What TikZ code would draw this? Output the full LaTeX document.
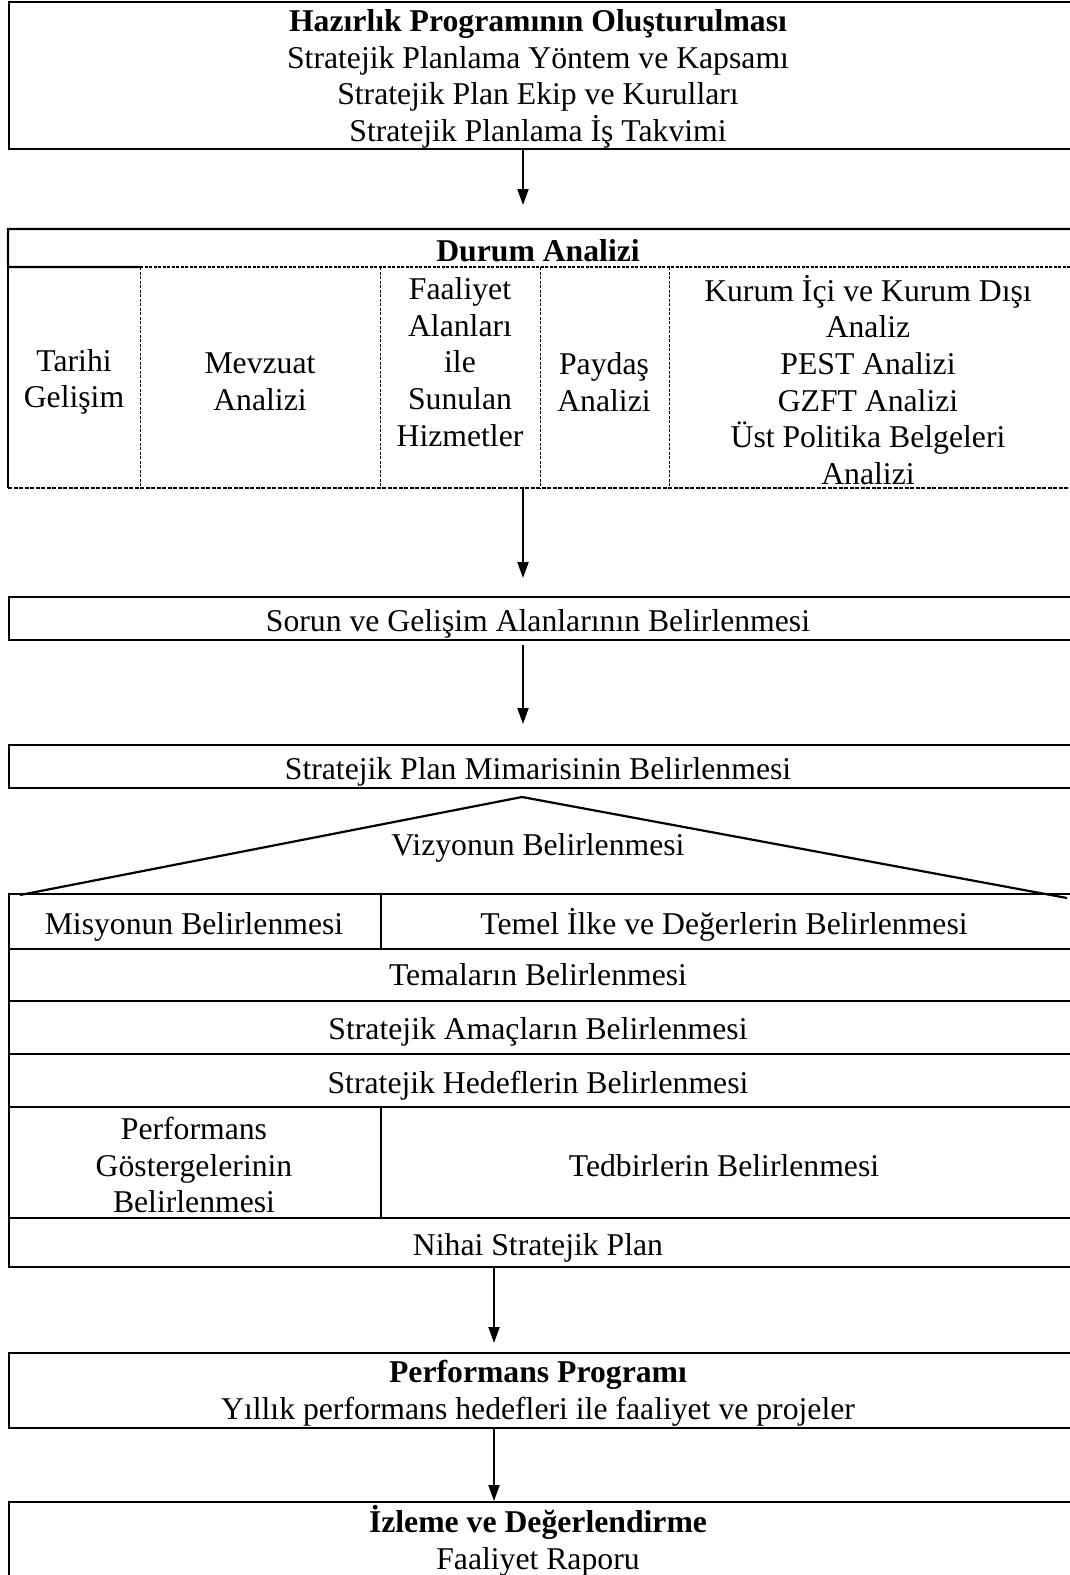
\documentclass[tikz,border=0pt]{standalone}
\usepackage{fontspec}
\setmainfont{Liberation Serif}
\usetikzlibrary{arrows.meta,calc}
\begin{document}
\begin{tikzpicture}[x=1pt,y=-1pt,
  txt/.style={font=\fontsize{31.7}{36.7}\selectfont, align=center, inner sep=0pt},
  one/.style={txt, text height=21pt, text depth=7pt},
  frame/.style={draw, line width=2.2pt, inner sep=0pt, anchor=north west},
  area/.style={inner sep=0pt, anchor=north west},
  thick line/.style={line width=2.2pt},
  sep line/.style={line width=1pt, dash pattern=on 3pt off 1.5pt},
  head line/.style={line width=1.5pt, dash pattern=on 3pt off 1.5pt},
  foot line/.style={line width=2pt, dash pattern=on 4pt off 1.5pt},
  arr/.style={line width=2pt, -{Triangle[length=16pt,width=11pt]}}]
\useasboundingbox (0,0) rectangle (1069,1575);

% ---------- box 1
\node[frame, minimum width=1092pt, minimum height=147pt] (b1) at (8,1) {};
\node[txt] (t1) at (538,79) {\textbf{Hazırlık Programının Oluşturulması}\\Stratejik Planlama Yöntem ve Kapsamı\\Stratejik Plan Ekip ve Kurulları\\Stratejik Planlama İş Takvimi};

% ---------- box 2 : Durum Analizi
\node[area, minimum width=1092pt, minimum height=259pt] (b2) at (8,229) {};
\coordinate (h0) at (8,267);
\coordinate (h1) at (140,267);
\coordinate (h5) at (1100,267);
\coordinate (f0) at (8,488);
\coordinate (f5) at (1100,488);
\draw[thick line] (h1) -- (h0) |- (b2.north east) -- (f5);
\draw[thick line] (h0) -- (f0);
\draw[head line] (h1) -- (h5);
\draw[foot line] (f0) -- (f5);
\foreach \x in {140,380,540,669}{
  \draw[sep line] (\x,267) -- (\x,488);
}
\node[one] (dh) at (538,254) {\textbf{Durum Analizi}};
\node[txt] (c1) at (74,382) {Tarihi\\Gelişim};
\node[txt] (c2) at (260,382) {Mevzuat\\Analizi};
\node[txt] (c3) at (460,362) {Faaliyet\\Alanları\\ile\\Sunulan\\Hizmetler};
\node[txt] (c4) at (604,382) {Paydaş\\Analizi};
\node[txt] (c5) at (868,380) {Kurum İçi ve Kurum Dışı\\Analiz\\PEST Analizi\\GZFT Analizi\\Üst Politika Belgeleri\\Analizi};

% ---------- box 3
\node[frame, minimum width=1092pt, minimum height=43pt] (b3) at (8,596) {};
\node[one] (t3) at (538,624) {Sorun ve Gelişim Alanlarının Belirlenmesi};

% ---------- box 4
\node[frame, minimum width=1092pt, minimum height=43pt] (b4) at (8,744) {};
\node[one] (t4) at (538,772) {Stratejik Plan Mimarisinin Belirlenmesi};

% ---------- triangle (vision)
\coordinate (vl) at (20,895);
\coordinate (vt) at (522,797);
\coordinate (vr) at (1067,898);
\draw[thick line] (vl) -- (vt) -- (vr);
\node[one] (viz) at (538,848) {Vizyonun Belirlenmesi};

% ---------- main table
\node[frame, minimum width=1092pt, minimum height=373pt] (tb) at (8,893) {};
\foreach \y in {949,1001,1054,1107,1218}{
  \draw[thick line] (8,\y) -- (1100,\y);
}
\draw[thick line] (381,893) -- (381,949);
\draw[thick line] (381,1107) -- (381,1218);
\node[one] (mis) at (194,927) {Misyonun Belirlenmesi};
\node[one] (tem) at (724,927) {Temel İlke ve Değerlerin Belirlenmesi};
\node[one] (tema) at (538,978) {Temaların Belirlenmesi};
\node[one] (amac) at (538,1032) {Stratejik Amaçların Belirlenmesi};
\node[one] (hedef) at (538,1086) {Stratejik Hedeflerin Belirlenmesi};
\node[txt] (perf) at (194,1165) {Performans\\Göstergelerinin\\Belirlenmesi};
\node[one] (tedb) at (724,1169) {Tedbirlerin Belirlenmesi};
\node[one] (nih) at (538,1248) {Nihai Stratejik Plan};

% ---------- box 6
\node[frame, minimum width=1092pt, minimum height=75pt] (b6) at (8,1352) {};
\node[txt] (t6) at (538,1393) {\textbf{Performans Programı}\\Yıllık performans hedefleri ile faaliyet ve projeler};

% ---------- box 7
\node[frame, minimum width=1092pt, minimum height=110pt] (b7) at (8,1501) {};
\node[txt] (t7) at (538,1541) {\textbf{İzleme ve Değerlendirme}\\Faaliyet Raporu};

% ---------- arrows
\coordinate (ax) at (523,0);
\coordinate (bx) at (494,0);
\draw[arr, shorten >=24pt] (b1.south -| ax) -- (b2.north -| ax);
\draw[arr, shorten >=18pt] (b2.south -| ax) -- (b3.north -| ax);
\draw[arr, shorten <=4pt, shorten >=20pt] (b3.south -| ax) -- (b4.north -| ax);
\draw[arr, shorten >=9pt] (tb.south -| bx) -- (b6.north -| bx);
\draw[arr] (b6.south -| bx) -- (b7.north -| bx);
\end{tikzpicture}
\end{document}
